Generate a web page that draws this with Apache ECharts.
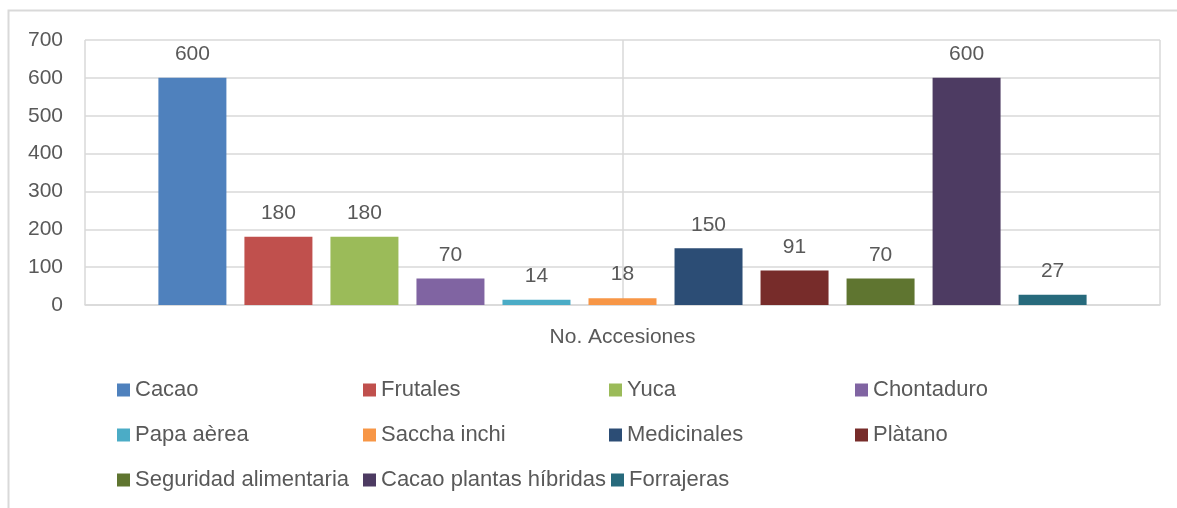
<!DOCTYPE html>
<html>
<head>
<meta charset="utf-8">
<script src="https://cdn.jsdelivr.net/npm/echarts@6/dist/echarts.min.js"></script>
<style>
  html, body { margin: 0; padding: 0; background: #fff; }
  #chart { width: 1177px; height: 508px; }
</style>
</head>
<body>
<div id="chart"></div>
<script>
// datos del grafico
var categorias = ["No. Accesiones"];
var nombres = ["Cacao", "Frutales", "Yuca", "Chontaduro", "Papa aèrea", "Saccha inchi",
    "Medicinales", "Plàtano", "Seguridad alimentaria", "Cacao plantas híbridas", "Forrajeras"];
var valores = [600, 180, 180, 70, 14, 18, 150, 91, 70, 600, 27];
var colores = ["#4F81BD", "#C0504D", "#9BBB59", "#8064A2", "#4BACC6", "#F79646",
    "#2C4D75", "#772C2A", "#5F7530", "#4D3B62", "#276A7C"];
var ticksY = { min: 0, max: 700, interval: 100 };

var fuente = "Liberation Sans";
var gris = "#595959";
var linea = "#d9d9d9";

// series, una barra por cultivo
var series = nombres.map(function (nombre, i) {
    return {
        name: nombre,
        type: "bar",
        xAxisIndex: 0,
        data: [valores[i]],
        barWidth: 68,
        barGap: "26.5%",
        itemStyle: { color: colores[i] },
        label: {
            show: true,
            position: "top",
            distance: 13,
            color: gris,
            fontFamily: fuente,
            fontSize: 21
        }
    };
});

// leyenda en tres filas de cuatro columnas
function filaLeyenda(items, top) {
    return {
        data: items,
        left: 117,
        top: top,
        padding: 0,
        orient: "horizontal",
        icon: "rect",
        itemWidth: 13,
        itemHeight: 13,
        itemGap: 5,
        selectedMode: false,
        textStyle: { color: gris, fontFamily: fuente, fontSize: 22, width: 223, lineHeight: 24 }
    };
}

var chart = echarts.init(document.getElementById("chart"));
chart.setOption({
    animation: false,
    backgroundColor: "#fff",
    graphic: [{
        type: "rect",
        shape: { x: 8.5, y: 10.5, width: 1200, height: 600 },
        style: { fill: null, stroke: linea, lineWidth: 2 },
        silent: true,
        z: -10
    }],
    grid: { left: 85, right: 17, top: 40, bottom: 203 },
    legend: [
        filaLeyenda(nombres.slice(0, 4), 378),
        filaLeyenda(nombres.slice(4, 8), 423),
        filaLeyenda(nombres.slice(8), 468)
    ],
    xAxis: [{
        type: "category",
        data: categorias,
        axisLine: { show: true, lineStyle: { color: linea, width: 1.5 } },
        axisTick: { show: false },
        axisLabel: { color: gris, fontFamily: fuente, fontSize: 21, margin: 22 }
    }, {
        // eje auxiliar solo para las lineas verticales
        type: "value",
        min: -1,
        max: 1,
        interval: 1,
        position: "top",
        axisLine: { show: false },
        axisTick: { show: false },
        axisLabel: { show: false },
        splitLine: { show: true, lineStyle: { color: linea, width: 1.5 } }
    }],
    yAxis: {
        type: "value",
        min: ticksY.min,
        max: ticksY.max,
        interval: ticksY.interval,
        axisLine: { show: false },
        axisTick: { show: false },
        axisLabel: { color: gris, fontFamily: fuente, fontSize: 21, margin: 22 },
        splitLine: { lineStyle: { color: linea, width: 1.5 } }
    },
    series: series
});
</script>
</body>
</html>
